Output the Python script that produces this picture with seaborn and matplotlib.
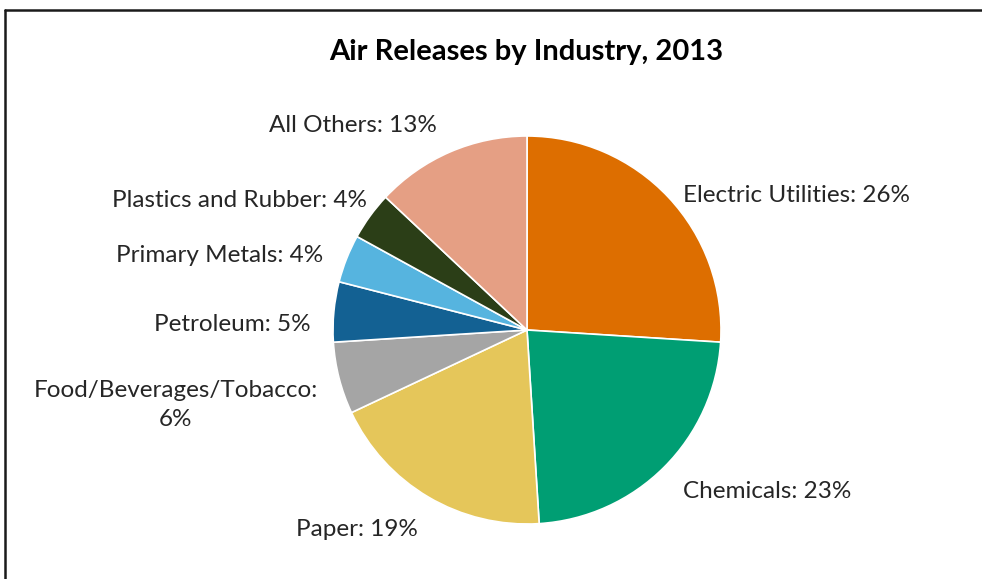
import numpy as np
import matplotlib
matplotlib.use("Agg")
import matplotlib.pyplot as plt
from matplotlib.lines import Line2D
import seaborn as sns

categories = ["Electric Utilities", "Chemicals", "Paper", "Food/Beverages/Tobacco",
              "Petroleum", "Primary Metals", "Plastics and Rubber", "All Others"]
values = [26, 23, 19, 6, 5, 4, 4, 13]
colors = ["#DD6E00", "#009E73", "#E5C65A", "#A5A5A5",
          "#136193", "#56B4DF", "#2B3E17", "#E59F84"]
label_texts = ["Electric Utilities: 26%", "Chemicals: 23%", "Paper: 19%",
               "Food/Beverages/Tobacco:\n6%", "Petroleum: 5%", "Primary Metals: 4%",
               "Plastics and Rubber: 4%", "All Others: 13%"]
title = "Air Releases by Industry, 2013"

sns.set_theme(style="white")
plt.rcParams['font.family'] = ['Lato', 'DejaVu Sans']

W, H = 982, 579
fig = plt.figure(figsize=(W / 100, H / 100), dpi=100)
fig.patch.set_facecolor("white")

cx, cy, r = 527, 330, 194
ax = fig.add_axes([(cx - r) / W, (H - cy - r) / H, 2 * r / W, 2 * r / H])
wedges, _ = ax.pie(values, colors=colors, startangle=90, counterclock=False,
                   radius=1.0, wedgeprops=dict(edgecolor="white", linewidth=1.2))
ax.set_xlim(-1, 1)
ax.set_ylim(-1, 1)
ax.set_aspect("equal")
ax.axis("off")

# label positions from wedge mid-angles
dist = [1.103, 1.137, 1.104, 1.112, 1.118, 1.131, 1.02, 1.169]
dy_adj = [-0.06, -0.026, -0.08, -0.11, -0.079, -0.03, 0.07, -0.02]
for w, txt, d, da in zip(wedges, label_texts, dist, dy_adj):
    ang = np.deg2rad((w.theta1 + w.theta2) / 2)
    x, y = d * np.cos(ang), d * np.sin(ang) + da
    ha = "left" if x > 0 else "right"
    ax.text(x, y, txt, ha=ha, va="center", fontsize=17.5, color="#262626",
            multialignment="center", linespacing=1.5, clip_on=False)

fig.text(526 / W, 1 - 52 / H, title, ha="center", va="center",
         fontsize=21, fontweight="bold", color="black")

# frame (top and left border of the cropped chart area)
fig.add_artist(Line2D([5 / W, 1.0], [1 - 10 / H, 1 - 10 / H], transform=fig.transFigure,
                      color="#1a1a1a", linewidth=1.8))
fig.add_artist(Line2D([5 / W, 5 / W], [0, 1 - 10 / H], transform=fig.transFigure,
                      color="#1a1a1a", linewidth=1.8))

fig.savefig("out.png", dpi=100, facecolor="white")
